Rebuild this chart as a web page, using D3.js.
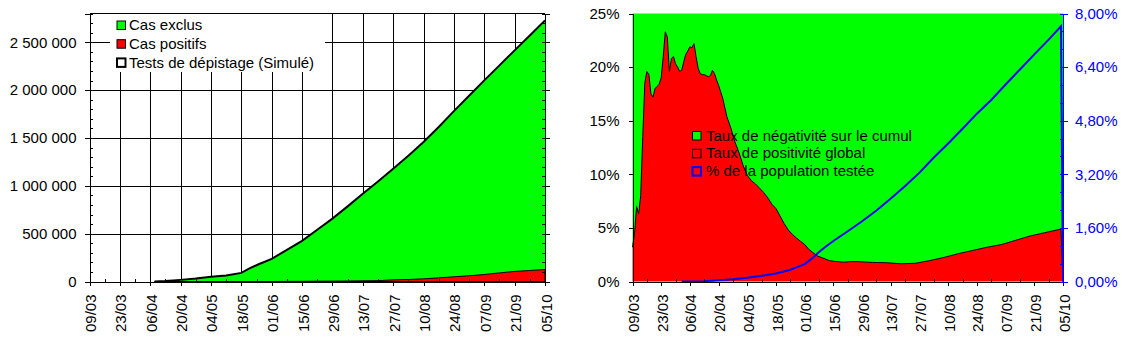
<!DOCTYPE html>
<html>
<head>
<meta charset="utf-8">
<script src="https://cdn.jsdelivr.net/npm/d3@7"></script>
<style>
body { margin: 0; background: #fff; }
text { font-family: "Liberation Sans", Arial, sans-serif; font-size: 15px; }
</style>
</head>
<body>
<svg width="1122" height="341"></svg>
<script>
// ---- data ----
const DATE_TICKS = ['09/03','23/03','06/04','20/04','04/05','18/05','01/06','15/06','29/06','13/07','27/07','10/08','24/08','07/09','21/09','05/10'];

// left chart : cumulative tests / positives
const LEFT_MAX = 2800000;
const LEFT_Y_TICKS = [0, 500000, 1000000, 1500000, 2000000, 2500000];
const testDates = ['08/04','13/04','20/04','27/04','04/05','11/05','18/05','22/05','26/05','01/06','08/06','15/06','22/06','29/06','06/07','13/07','20/07','27/07','03/08','10/08','17/08','24/08','31/08','07/09','14/09','21/09','28/09','05/10'];
const tests     = [0, 5000, 17000, 31000, 49000, 63000, 90000, 140000, 180000, 237000, 330000, 425000, 540000, 657000, 785000, 917000, 1045000, 1178000, 1315000, 1457000, 1615000, 1780000, 1940000, 2101000, 2258000, 2415000, 2570000, 2728000];
const positives = [0, 0, 0, 0, 0, 0, 0, 0, 0, 0, 1000, 2000, 3000, 4000, 5000, 7000, 9000, 17000, 21000, 28000, 38000, 49000, 60000, 73000, 90000, 105000, 115000, 125000];
const leftLegend = ['Cas exclus', 'Cas positifs', 'Tests de dépistage (Simulé)'];

// right chart : rates (%)
const RATE_TICKS = [0, 5, 10, 15, 20, 25];
const POP_TICKS = [0, 1.6, 3.2, 4.8, 6.4, 8];
const rateDates = ['09/03','10/03','11/03','12/03','13/03','14/03','15/03','16/03','17/03','18/03','19/03','20/03','21/03','22/03','23/03','24/03','25/03','26/03','27/03','28/03','29/03','30/03','31/03','01/04','02/04','03/04','04/04','05/04','06/04','07/04','08/04','09/04','10/04','11/04','12/04','13/04','14/04','15/04','16/04','17/04','18/04','19/04','20/04','21/04','22/04','24/04','26/04','28/04','30/04','02/05','04/05','06/05','08/05','10/05','12/05','14/05','16/05','18/05','20/05','22/05','24/05','26/05','28/05','30/05','01/06','03/06','05/06','07/06','09/06','11/06','13/06','16/06','20/06','23/06','27/06','04/07','11/07','18/07','25/07','01/08','08/08','15/08','22/08','29/08','05/09','12/09','19/09','26/09','03/10','04/10','05/10'];
const positivity = [3.2, 4.5, 7.0, 6.3, 8.0, 13.5, 18.5, 19.6, 19.3, 17.5, 17.2, 18.0, 18.2, 18.4, 19.0, 21.0, 23.3, 22.8, 19.6, 20.8, 21.0, 20.3, 20.0, 19.6, 19.7, 20.5, 21.2, 21.5, 21.9, 21.8, 22.2, 21.0, 19.9, 19.4, 19.3, 19.3, 19.2, 19.1, 19.2, 19.7, 19.4, 18.8, 18.3, 17.7, 17.1, 15.4, 14.3, 13.0, 12.0, 10.8, 9.9, 9.4, 9.1, 8.7, 8.3, 7.8, 7.2, 6.8, 6.1, 5.4, 4.8, 4.4, 4.05, 3.75, 3.45, 3.0, 2.7, 2.4, 2.25, 2.1, 1.95, 1.87, 1.8, 1.85, 1.85, 1.78, 1.75, 1.65, 1.7, 1.95, 2.25, 2.6, 2.9, 3.2, 3.45, 3.85, 4.25, 4.55, 4.85, 4.9, 0];
const popDates = ['02/04','13/04','20/04','27/04','04/05','11/05','18/05','25/05','28/05','01/06','04/06','08/06','11/06','15/06','22/06','29/06','06/07','13/07','20/07','27/07','03/08','10/08','17/08','24/08','31/08','07/09','14/09','21/09','28/09','04/10','05/10'];
const popTested = [0, 0.01, 0.04, 0.07, 0.11, 0.17, 0.24, 0.35, 0.42, 0.52, 0.66, 0.88, 1.03, 1.21, 1.50, 1.80, 2.12, 2.48, 2.85, 3.25, 3.70, 4.12, 4.56, 5.01, 5.42, 5.88, 6.33, 6.78, 7.22, 7.62, 0];
const rightLegend = ['Taux de négativité sur le cumul', 'Taux de positivité global', '% de la population testée'];

// ---- helpers ----
const svg = d3.select('svg');
const parse = s => d3.timeParse('%d/%m/%Y')(s + '/2020');
const fr = d3.formatLocale({decimal: ',', thousands: ' ', grouping: [3], currency: ['', ' €']});
const GREEN = '#00ff00', RED = '#ff0000', BLUE = '#0000ff';

const tickDates = DATE_TICKS.map(parse);
const minorDates = tickDates.slice(0, -1).map(d => d3.timeDay.offset(d, 7));

function dateAxis(g, x, y) {
    g.append('g')
        .attr('transform', `translate(0,${y})`)
        .call(d3.axisBottom(x).tickValues(tickDates).tickSize(4).tickFormat(d3.timeFormat('%d/%m')))
        .call(a => a.selectAll('text')
            .attr('transform', 'rotate(-90)')
            .attr('text-anchor', 'end')
            .attr('x', -13).attr('y', 0).attr('dy', '0.4em'));
    g.append('g')
        .attr('transform', `translate(0,${y})`)
        .call(d3.axisBottom(x).tickValues(minorDates).tickSize(-3).tickFormat(''))
        .call(a => a.select('.domain').remove());
}

// ---- left chart ----
const L = {x0: 89.5, x1: 545, y0: 13.5, y1: 281.5};
const xL = d3.scaleTime().domain([tickDates[0], tickDates[tickDates.length - 1]]).range([L.x0, L.x1]);
const yL = d3.scaleLinear().domain([0, LEFT_MAX]).range([L.y1, L.y0]);
const left = svg.append('g').attr('shape-rendering', 'crispEdges');

// grid
left.append('g')
    .attr('transform', `translate(0,${L.y1})`)
    .call(d3.axisBottom(xL).tickValues(tickDates).tickSize(-(L.y1 - L.y0)).tickFormat(''))
    .call(g => g.select('.domain').remove());
left.append('g')
    .attr('transform', `translate(${L.x0},0)`)
    .call(d3.axisLeft(yL).tickValues(LEFT_Y_TICKS).tickSize(-(L.x1 - L.x0)).tickFormat(''))
    .call(g => g.select('.domain').remove());

const leftData = testDates.map((d, i) => ({date: parse(d), tests: tests[i], pos: positives[i]}));

const areas = svg.append('g');
areas.append('path')
    .datum(leftData)
    .attr('fill', GREEN)
    .attr('d', d3.area().x(d => xL(d.date)).y0(d => yL(d.pos)).y1(d => yL(d.tests)));
areas.append('path')
    .datum(leftData)
    .attr('fill', RED)
    .attr('stroke', '#000')
    .attr('stroke-width', 1)
    .attr('d', d3.area().x(d => xL(d.date)).y0(yL(0)).y1(d => yL(d.pos)));
areas.append('path')
    .datum(leftData)
    .attr('fill', 'none')
    .attr('stroke', '#000')
    .attr('stroke-width', 2)
    .attr('d', d3.line().x(d => xL(d.date)).y(d => yL(d.tests)));

// legend box
const lLeg = svg.append('g');
lLeg.append('rect')
    .attr('x', 110).attr('y', L.y0 + 0.5).attr('width', 215).attr('height', 58)
    .attr('fill', '#fff');
const lItems = lLeg.selectAll('g.item').data(leftLegend).join('g')
    .attr('class', 'item')
    .attr('transform', (d, i) => `translate(117,${21 + i * 18.7})`);
lItems.append('rect')
    .attr('width', 8.5).attr('height', 8.5)
    .attr('fill', (d, i) => [GREEN, RED, '#fff'][i])
    .attr('stroke', '#000')
    .attr('stroke-width', (d, i) => i === 2 ? 2 : 1);
lItems.append('text')
    .attr('x', 12).attr('y', 9.3)
    .text(d => d);

// axes
const lAx = svg.append('g').attr('shape-rendering', 'crispEdges');
dateAxis(lAx, xL, L.y1);
lAx.append('g')
    .attr('transform', `translate(${L.x0},0)`)
    .call(d3.axisLeft(yL).tickValues(LEFT_Y_TICKS).tickSize(5).tickPadding(8).tickFormat(fr.format(',')));
lAx.append('g')
    .attr('transform', `translate(${L.x0},0)`)
    .call(d3.axisLeft(yL).tickValues(d3.range(0, LEFT_MAX + 1, 100000)).tickSize(-3).tickFormat(''));
lAx.append('g')
    .attr('transform', `translate(${L.x1},0)`)
    .call(d3.axisRight(yL).tickValues(LEFT_Y_TICKS).tickSize(5).tickFormat(''));
lAx.append('g')
    .attr('transform', `translate(${L.x1},0)`)
    .call(d3.axisRight(yL).tickValues(d3.range(0, LEFT_MAX + 1, 100000)).tickSize(-3).tickFormat(''));
lAx.append('line')
    .attr('x1', L.x0).attr('x2', L.x1).attr('y1', L.y0).attr('y2', L.y0)
    .attr('stroke', '#000');

// ---- right chart ----
const R = {x0: 632.5, x1: 1063, y0: 13.5, y1: 281.5};
const xR = d3.scaleTime().domain([tickDates[0], tickDates[tickDates.length - 1]]).range([R.x0, R.x1]);
const yR = d3.scaleLinear().domain([0, 25]).range([R.y1, R.y0]);
const yRc = yR.copy().clamp(true);
const yB = d3.scaleLinear().domain([0, 8]).range([R.y1, R.y0]);

const rateData = rateDates.map((d, i) => ({date: parse(d), pos: positivity[i], neg: 100 - positivity[i]}));
const popData = popDates.map((d, i) => ({date: parse(d), v: popTested[i]}));

const right = svg.append('g');
right.append('path')
    .datum(rateData)
    .attr('fill', GREEN)
    .attr('d', d3.area().x(d => xR(d.date)).y0(d => yR(d.pos)).y1(d => yRc(d.pos + d.neg)));
right.append('path')
    .datum(rateData)
    .attr('fill', RED)
    .attr('d', d3.area().x(d => xR(d.date)).y0(yR(0)).y1(d => yR(d.pos)));
right.append('path')
    .datum(rateData)
    .attr('fill', 'none')
    .attr('stroke', '#000')
    .attr('stroke-width', 1)
    .attr('d', d3.line().x(d => xR(d.date)).y(d => yR(d.pos)));
right.append('path')
    .datum(popData)
    .attr('fill', 'none')
    .attr('stroke', BLUE)
    .attr('stroke-width', 2)
    .attr('d', d3.line().x(d => xR(d.date)).y(d => yB(d.v)));

// legend
const rItems = svg.append('g').selectAll('g').data(rightLegend).join('g')
    .attr('transform', (d, i) => `translate(692.5,${131.5 + i * 17.8})`);
rItems.append('rect')
    .attr('width', 8.5).attr('height', 8.5)
    .attr('fill', (d, i) => [GREEN, RED, 'none'][i])
    .attr('stroke', (d, i) => i === 2 ? BLUE : '#000')
    .attr('stroke-width', (d, i) => i === 2 ? 2 : 1);
rItems.append('text')
    .attr('x', 13.5).attr('y', 9)
    .text(d => d);

// axes
const rAx = svg.append('g').attr('shape-rendering', 'crispEdges');
dateAxis(rAx, xR, R.y1);
rAx.append('g')
    .attr('transform', `translate(${R.x0},0)`)
    .call(d3.axisLeft(yR).tickValues(RATE_TICKS).tickSize(4).tickPadding(9).tickFormat(d => d + '%'));
const blueAx = rAx.append('g')
    .attr('transform', `translate(${R.x1},0)`)
    .attr('color', BLUE);
blueAx.append('g')
    .call(d3.axisRight(yB).tickValues(POP_TICKS).tickSize(5).tickPadding(7).tickFormat(d => fr.format('.2f')(d) + '%'))
    .call(g => g.selectAll('text').attr('fill', BLUE));
blueAx.append('g')
    .call(d3.axisRight(yB).tickValues(d3.range(0, 8.001, 1.6 / 3)).tickSize(-3).tickFormat(''));
</script>
</body>
</html>
